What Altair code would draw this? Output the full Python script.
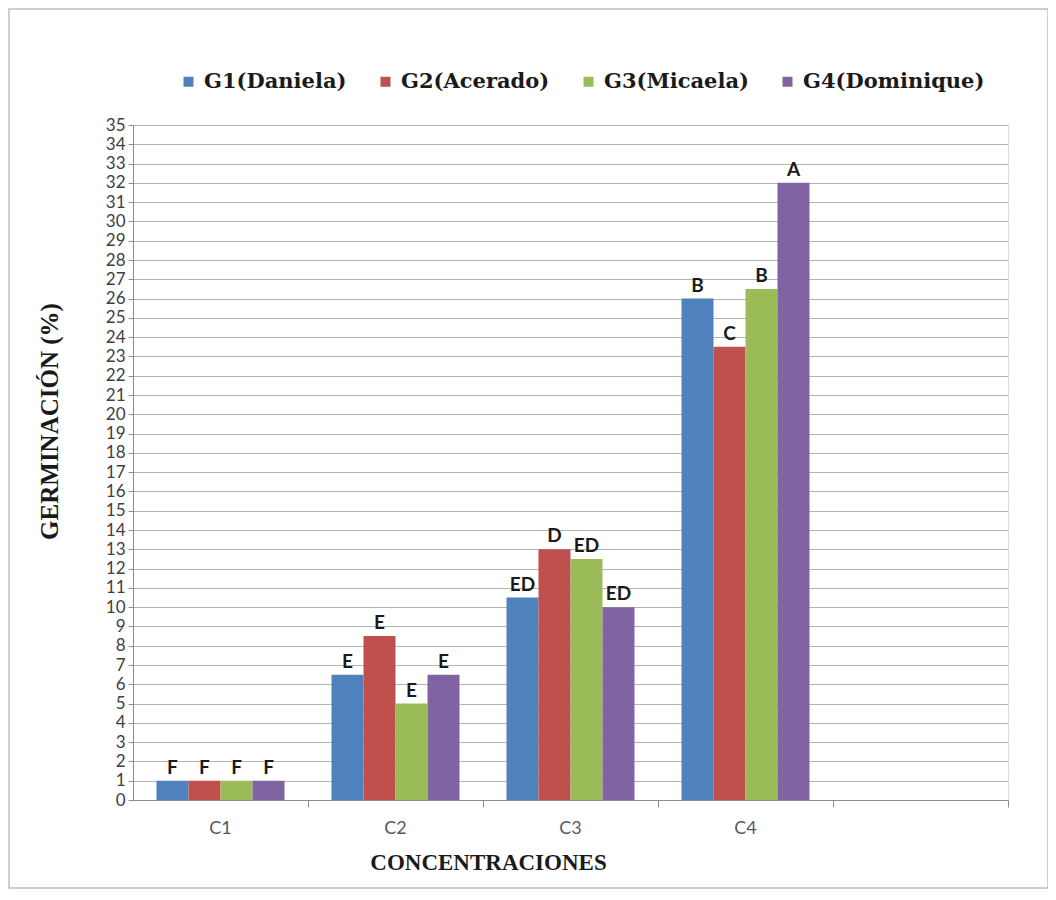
import altair as alt
import pandas as pd

concentraciones = ["C1", "C2", "C3", "C4"]
x_domain = ["C1", "C2", "C3", "C4", " "]
genotipos = ["G1(Daniela)", "G2(Acerado)", "G3(Micaela)", "G4(Dominique)"]
colores = ["#4F81BD", "#C0504D", "#9BBB59", "#8064A2"]

g1 = [1, 6.5, 10.5, 26]
g2 = [1, 8.5, 13, 23.5]
g3 = [1, 5, 12.5, 26.5]
g4 = [1, 6.5, 10, 32]

l1 = ["F", "E", "ED", "B"]
l2 = ["F", "E", "D", "C"]
l3 = ["F", "E", "ED", "B"]
l4 = ["F", "E", "ED", "A"]

y_ticks = list(range(0, 36))

rows = []
for g, vals, labs in zip(genotipos, [g1, g2, g3, g4], [l1, l2, l3, l4]):
    for c, v, l in zip(concentraciones, vals, labs):
        rows.append({"conc": c, "gen": g, "val": v, "lab": l})
df = pd.DataFrame(rows)

W, H = 875, 675

x_enc = alt.X("conc:N", scale=alt.Scale(domain=x_domain, paddingInner=0, paddingOuter=0),
              sort=x_domain,
              axis=alt.Axis(title="CONCENTRACIONES", labelAngle=0, bandPosition=1,
                            tickSize=7, tickColor="#8c8c8c", domainColor="#8c8c8c",
                            labelFont="Lato", labelFontSize=18, labelColor="#595959",
                            labelPadding=12,
                            titleFont="Liberation Serif", titleFontSize=23, titleFontWeight="bold",
                            titleColor="#1a1a1a", titleX=355, titleY=51, titleBaseline="top",
                            titleAnchor="middle", titleAlign="center"))
xo_enc = alt.XOffset("gen:N", scale=alt.Scale(domain=genotipos, paddingInner=0, paddingOuter=0.734),
                     sort=genotipos)
y_enc = alt.Y("val:Q", scale=alt.Scale(domain=[0, 35], nice=False),
              axis=alt.Axis(title="GERMINACIÓN (%)", values=y_ticks, labelOverlap=False,
                            tickSize=5, tickColor="#8c8c8c", domainColor="#8c8c8c",
                            gridColor="#b3b3b3", gridWidth=1.2,
                            labelFont="Lato", labelFontSize=17, labelColor="#404040",
                            labelPadding=3,
                            titleFont="Liberation Serif", titleFontSize=25, titleFontWeight="bold",
                            titleColor="#1a1a1a", titleX=-71, titleY=296,
                            titleBaseline="bottom", titleAngle=-90, titleAlign="center"))

bars = alt.Chart(df).mark_bar().encode(
    x=x_enc, xOffset=xo_enc, y=y_enc,
    color=alt.Color("gen:N", scale=alt.Scale(domain=genotipos, range=colores),
                    legend=alt.Legend(title=None, orient="none", direction="horizontal",
                                      legendX=45, legendY=-54, symbolType="square",
                                      symbolSize=100, symbolStrokeWidth=0,
                                      labelFont="DejaVu Serif", labelFontSize=21,
                                      labelFontWeight="bold", labelColor="#1a1a1a",
                                      labelOffset=5, columnPadding=28, padding=0,
                                      labelLimit=300))
)

texts = alt.Chart(df).mark_text(baseline="bottom", dy=-3, font="Lato", fontSize=19,
                                fontWeight="bold", color="#1a1a1a").encode(
    x=x_enc, xOffset=xo_enc, y=y_enc, text="lab:N")

border = alt.Chart(pd.DataFrame({"k": [0]})).mark_rect(
    fill=None, stroke="#bfbfbf", strokeWidth=1.5).encode(
    x=alt.value(-124), x2=alt.value(915), y=alt.value(-116), y2=alt.value(763))

chart = alt.layer(bars, texts, border).properties(
    width=W, height=H,
    autosize=alt.AutoSizeParams(type="none"),
    padding={"left": 125, "top": 117, "right": 40, "bottom": 100},
).configure_view(stroke=None).configure(background="white")

chart.save("out.html", embed_options={"renderer": "svg", "actions": False})
